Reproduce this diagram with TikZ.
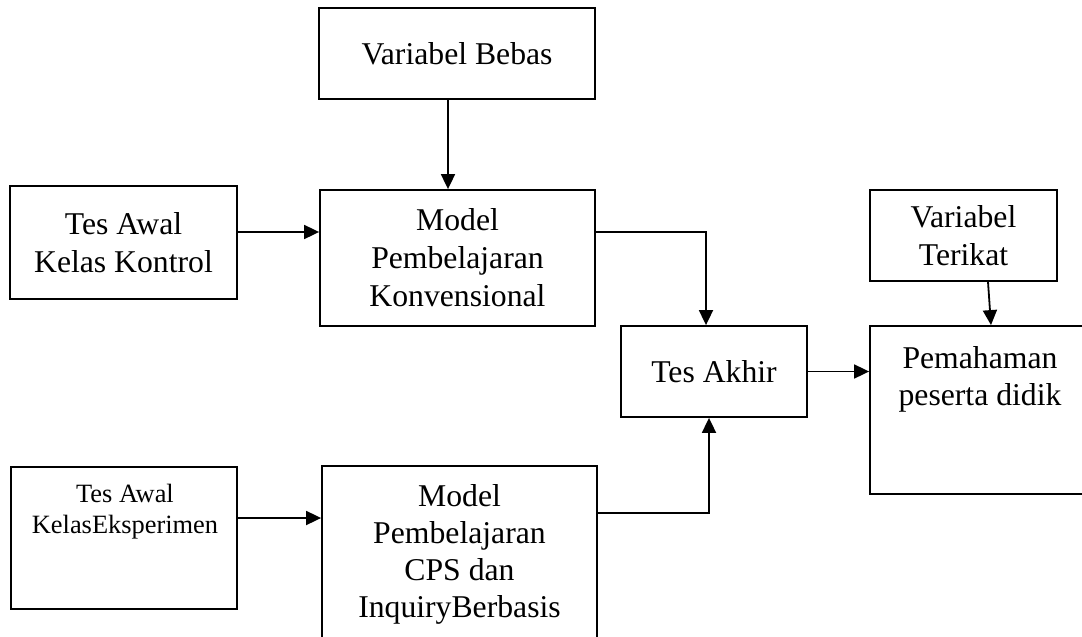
\documentclass[tikz,border=0pt]{standalone}
\usepackage{fontspec}
\setmainfont{Liberation Serif}
\usetikzlibrary{arrows.meta}
\usetikzlibrary{positioning}

\begin{document}
\begin{tikzpicture}[x=1pt, y=-1pt,
    box/.style={draw, line width=1.8pt, inner sep=0pt, align=center, font=\fontsize{31.7}{38}\selectfont},
    txt/.style={inner sep=0pt, align=center, font=\fontsize{31.7}{37}\selectfont},
    arr/.style={line width=1.8pt, -{Triangle[length=15pt, width=14pt]}}]
    \useasboundingbox (0,0) rectangle (1082,637);
    \clip (0,0) rectangle (1082,637);

    % boxes
    \node[box, minimum width=276pt, minimum height=91pt]  (bebas)   at (457,53.5)   {Variabel Bebas};
    \node[box, minimum width=275pt, minimum height=136pt] (konv)    at (457.5,258)  {Model\\Pembelajaran\\Konvensional};
    \node[box, minimum width=227pt, minimum height=113pt] (kontrol) at (123.5,242.5) {Tes Awal\\Kelas Kontrol};
    \node[box, minimum width=226pt, minimum height=142pt] (eksp)    at (124,538)    {};
    \node[box, minimum width=275pt, minimum height=194pt] (cps)     at (459.5,563)  {};
    \node[box, minimum width=186pt, minimum height=91pt]  (akhir)   at (714,371.5)  {Tes Akhir};
    \node[box, minimum width=187pt, minimum height=91pt]  (terikat) at (963.5,235.5) {Variabel\\Terikat};
    \node[box, minimum width=230pt, minimum height=168pt] (paham)   at (985,410)    {};

    % texts at the top of the boxes
    \node[txt, anchor=north, font=\fontsize{26.4}{31}\selectfont] (eksptxt) at (125,484) {Tes Awal\\KelasEksperimen};
    \node[txt, anchor=north] (cpstxt)   at (459.5,484) {Model\\Pembelajaran\\CPS dan\\InquiryBerbasis};
    \node[txt, anchor=north] (pahamtxt) at (980,346)   {Pemahaman\\peserta didik};

    % arrows
    \draw[arr] ([xshift=-9pt]bebas.south) -- ([xshift=-9pt]bebas.south |- konv.north);
    \draw[arr] ([yshift=10.5pt]kontrol.east) -- ([yshift=10.5pt]kontrol.east -| konv.west);
    \draw[arr] ([yshift=20pt]eksp.east) -- ([yshift=20pt]eksp.east -| cps.west);
    \draw[arr] ([yshift=26pt]konv.east) -| ([xshift=-8pt]akhir.north);
    \draw[arr] ([yshift=50pt]cps.east) -| ([xshift=-5pt]akhir.south);
    \draw[arr] (akhir.east) -- (akhir.east -| paham.west);
    \draw[arr] ([xshift=24.5pt]terikat.south) -- ([xshift=6pt]paham.north);

  \end{tikzpicture}
\end{document}
